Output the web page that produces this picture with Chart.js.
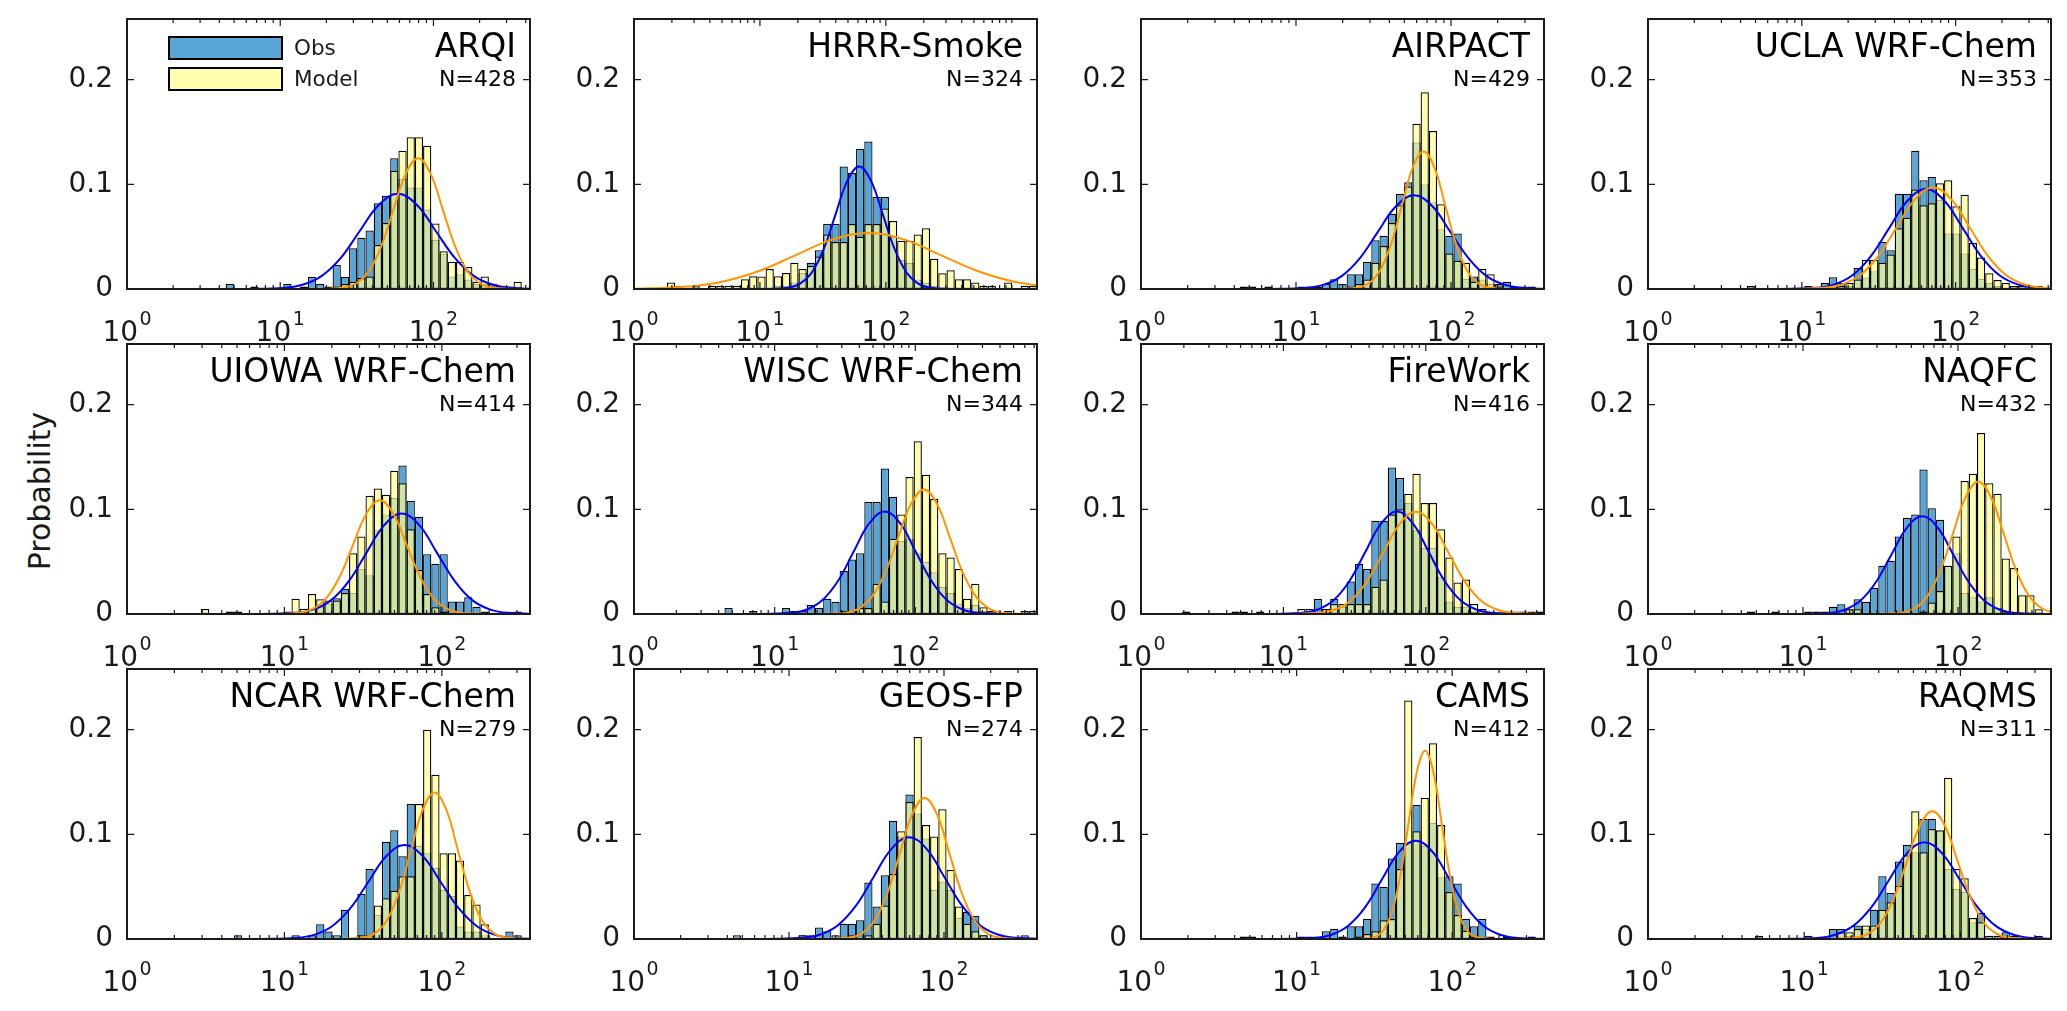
<!DOCTYPE html>
<html>
<head>
<meta charset="utf-8">
<script src="https://cdn.jsdelivr.net/npm/chart.js@4.4.1/dist/chart.umd.min.js"></script>
<style>
  html, body { margin: 0; padding: 0; background: #fff; }
  #fig { position: relative; width: 2067px; height: 1011px; overflow: hidden; background: #fff; }
  .cell { position: absolute; }
  #ylabel {
    position: absolute; left: 39px; top: 491px;
    transform: translate(-50%, -50%) rotate(-90deg);
    font: 30px "DejaVu Sans", sans-serif; color: #1a1a1a; white-space: nowrap;
  }
</style>
</head>
<body>
<div id="fig"><div id="ylabel">Probability</div></div>
<script>
// panels, left to right, top to bottom
const modelNames = ['ARQI', 'HRRR-Smoke', 'AIRPACT', 'UCLA WRF-Chem',
  'UIOWA WRF-Chem', 'WISC WRF-Chem', 'FireWork', 'NAQFC',
  'NCAR WRF-Chem', 'GEOS-FP', 'CAMS', 'RAQMS'];
const sampleSizes = [428, 324, 429, 353, 414, 344, 416, 432, 279, 274, 412, 311];
// upper x limit of each panel, log10 units (lower limit is 10^0)
const logUpperLimits = [2.63, 3.2, 2.6, 2.62, 2.56, 2.865, 2.83, 2.6, 2.56, 2.6, 2.59, 2.58];

const decadeTicks = [0, 1, 2];
const decadeTickExponents = ['0', '1', '2'];
const probTicks = [0, 0.1, 0.2];
const probTickLabels = ['0', '0.1', '0.2'];
const legendLabels = ['Obs', 'Model'];

// histograms: 49 equal log-width bins from 10^0 to the panel upper limit
const arqiObs = [
  0, 0, 0, 0, 0, 0, 0, 0, 0, 0,
  0, 0, 0.0047, 0, 0, 0.0023, 0, 0, 0, 0.0047,
  0, 0.0023, 0.0117, 0.0047, 0, 0.023, 0.0117, 0.039, 0.049, 0.056,
  0.082, 0.089, 0.125, 0.105, 0.097, 0.097, 0.076, 0.047, 0.034, 0.012,
  0.014, 0.009, 0.005, 0.005, 0.005, 0.0023, 0, 0.0023, 0];
const arqiModel = [
  0, 0, 0, 0, 0, 0, 0, 0, 0, 0,
  0, 0, 0, 0, 0, 0, 0, 0, 0, 0,
  0, 0, 0, 0, 0.0023, 0.0023, 0.0047, 0.007, 0.0105, 0.012,
  0.042, 0.063, 0.113, 0.132, 0.145, 0.145, 0.137, 0.0625, 0.036, 0.026,
  0.026, 0.021, 0.007, 0.012, 0.0023, 0.0023, 0.0023, 0.007, 0];

const hrrrObs = [
  0, 0, 0, 0, 0, 0, 0, 0.0031, 0, 0,
  0, 0, 0, 0, 0, 0, 0, 0.0031, 0.0031, 0.0062,
  0.0154, 0.025, 0.037, 0.062, 0.062, 0.117, 0.111, 0.134, 0.141, 0.088,
  0.088, 0.05, 0.028, 0.025, 0.009, 0.006, 0.003, 0, 0, 0,
  0, 0, 0, 0, 0, 0, 0, 0, 0];
const hrrrModel = [
  0, 0, 0, 0, 0.0062, 0.0031, 0, 0, 0, 0.0031,
  0.0031, 0.0031, 0.0031, 0.0093, 0.0123, 0.012, 0.019, 0.0123, 0.0154, 0.025,
  0.019, 0.022, 0.031, 0.052, 0.045, 0.045, 0.062, 0.05, 0.062, 0.062,
  0.077, 0.065, 0.046, 0.046, 0.052, 0.058, 0.029, 0.015, 0.018, 0.0093,
  0.0093, 0.0062, 0.0031, 0.0031, 0, 0.0062, 0, 0.0031, 0.0031];

const airpactObs = [
  0, 0, 0, 0, 0, 0, 0, 0, 0, 0,
  0, 0, 0.0023, 0.0023, 0, 0.0023, 0, 0, 0, 0.0023,
  0.0023, 0.0023, 0.0047, 0.0093, 0.0047, 0.014, 0.014, 0.026, 0.0465, 0.051,
  0.072, 0.091, 0.102, 0.14, 0.1, 0.083, 0.057, 0.051, 0.053, 0.0095,
  0.012, 0.009, 0.005, 0.0047, 0.007, 0.0023, 0.0023, 0.0023, 0];
const airpactModel = [
  0, 0, 0, 0, 0, 0, 0, 0, 0, 0,
  0, 0, 0, 0, 0, 0, 0, 0, 0, 0,
  0, 0, 0, 0, 0, 0.0023, 0.0047, 0.009, 0.025, 0.041,
  0.063, 0.08, 0.098, 0.158, 0.188, 0.151, 0.081, 0.034, 0.027, 0.025,
  0.007, 0.019, 0.014, 0.0023, 0, 0, 0, 0, 0];

const uclaObs = [
  0, 0, 0, 0, 0, 0, 0, 0, 0, 0,
  0, 0, 0.0028, 0, 0, 0, 0, 0, 0, 0.0028,
  0, 0.0057, 0.0113, 0.0057, 0.0028, 0.02, 0.011, 0.017, 0.045, 0.037,
  0.091, 0.091, 0.132, 0.104, 0.107, 0.085, 0.053, 0.053, 0.034, 0.019,
  0.0095, 0.0057, 0.0028, 0, 0, 0, 0, 0, 0];
const uclaModel = [
  0, 0, 0, 0, 0, 0, 0, 0, 0, 0,
  0, 0, 0, 0, 0, 0, 0, 0, 0, 0,
  0, 0, 0, 0.0028, 0.0057, 0.009, 0.028, 0.028, 0.025, 0.033,
  0.058, 0.068, 0.095, 0.08, 0.082, 0.101, 0.104, 0.079, 0.09, 0.044,
  0.03, 0.015, 0.0085, 0.0057, 0.0028, 0.0028, 0, 0.0028, 0];

const uiowaObs = [
  0, 0, 0, 0, 0, 0, 0, 0, 0, 0,
  0, 0, 0.0024, 0.0024, 0, 0, 0, 0, 0, 0,
  0, 0.0024, 0, 0.007, 0.01, 0.015, 0.024, 0.02, 0.043, 0.037,
  0.08, 0.095, 0.111, 0.142, 0.108, 0.093, 0.057, 0.048, 0.057, 0.012,
  0.012, 0.016, 0.007, 0.0024, 0, 0, 0, 0.0024, 0];
const uiowaModel = [
  0, 0, 0, 0, 0, 0, 0, 0, 0, 0.0048,
  0, 0, 0, 0, 0, 0, 0, 0, 0, 0.0024,
  0.0145, 0.005, 0.019, 0.014, 0.013, 0.013, 0.02, 0.058, 0.074, 0.113,
  0.12, 0.114, 0.137, 0.125, 0.081, 0.042, 0.019, 0.0065, 0.0024, 0,
  0, 0, 0, 0, 0, 0, 0, 0, 0];

const wiscObs = [
  0, 0, 0, 0, 0, 0, 0, 0, 0, 0,
  0, 0.0058, 0, 0, 0.0029, 0, 0, 0, 0.0058, 0.0029,
  0.0029, 0.0087, 0.0058, 0.0145, 0.0116, 0.041, 0.052, 0.058, 0.107, 0.107,
  0.139, 0.112, 0.07, 0.072, 0.058, 0.05, 0.04, 0.026, 0.02, 0.01,
  0.0058, 0.0087, 0.0029, 0, 0, 0, 0, 0, 0];
const wiscModel = [
  0, 0, 0, 0, 0, 0, 0, 0, 0, 0,
  0, 0, 0, 0, 0, 0, 0, 0, 0, 0,
  0, 0, 0, 0, 0, 0.0029, 0.0029, 0.0058, 0.0058, 0.029,
  0.012, 0.072, 0.095, 0.131, 0.165, 0.133, 0.11, 0.058, 0.054, 0.043,
  0.0145, 0.029, 0.0065, 0.0029, 0, 0.0029, 0, 0.0029, 0.0029];

const fireworkObs = [
  0, 0, 0, 0, 0, 0.0024, 0, 0, 0, 0,
  0, 0.0024, 0.0024, 0, 0.0024, 0, 0, 0, 0, 0,
  0, 0.0144, 0, 0.0144, 0.007, 0.031, 0.048, 0.043, 0.089, 0.089,
  0.14, 0.13, 0.106, 0.08, 0.063, 0.063, 0.035, 0.012, 0.007, 0.007,
  0.0024, 0, 0, 0, 0.0024, 0, 0.0024, 0, 0.0024];
const fireworkModel = [
  0, 0, 0, 0, 0, 0, 0, 0, 0, 0,
  0, 0, 0, 0, 0, 0, 0, 0, 0, 0.0048,
  0.0048, 0, 0.0048, 0.0096, 0.0096, 0.0096, 0.0096, 0.0096, 0.026, 0.033,
  0.095, 0.1, 0.115, 0.134, 0.106, 0.106, 0.081, 0.054, 0.03, 0.033,
  0.0096, 0.0048, 0, 0, 0, 0.0024, 0, 0.0024, 0];

const naqfcObs = [
  0, 0, 0, 0, 0, 0, 0, 0, 0, 0,
  0, 0, 0.0023, 0, 0, 0.0023, 0, 0, 0, 0.0023,
  0.0023, 0.0023, 0.007, 0.0093, 0.0046, 0.014, 0.0116, 0.025, 0.046, 0.051,
  0.074, 0.092, 0.095, 0.138, 0.101, 0.09, 0.046, 0.058, 0.02, 0.016,
  0.012, 0.016, 0.006, 0.0023, 0, 0, 0, 0, 0];
const naqfcModel = [
  0, 0, 0, 0, 0, 0, 0, 0, 0, 0,
  0, 0, 0, 0, 0, 0, 0, 0, 0, 0,
  0, 0, 0, 0, 0.0046, 0.0046, 0, 0, 0, 0,
  0.0023, 0, 0, 0.0023, 0.011, 0.022, 0.046, 0.074, 0.127, 0.134,
  0.173, 0.125, 0.115, 0.053, 0.044, 0.018, 0.018, 0.0046, 0];

const ncarObs = [
  0, 0, 0, 0, 0, 0, 0, 0, 0, 0,
  0, 0, 0, 0.0036, 0, 0, 0, 0, 0, 0,
  0.0036, 0, 0.0036, 0.014, 0.0072, 0.0036, 0.028, 0, 0.043, 0.067,
  0.023, 0.093, 0.104, 0.079, 0.129, 0.089, 0.082, 0.068, 0.047, 0.041,
  0.012, 0.0072, 0.0072, 0.0036, 0, 0, 0.0072, 0.0036, 0];
const ncarModel = [
  0, 0, 0, 0, 0, 0, 0, 0, 0, 0,
  0, 0, 0, 0, 0, 0, 0, 0, 0, 0,
  0, 0, 0, 0, 0, 0, 0, 0, 0.0036, 0.0036,
  0.032, 0.039, 0.046, 0.06, 0.06, 0.129, 0.2, 0.157, 0.082, 0.082,
  0.075, 0.042, 0.033, 0.014, 0, 0, 0, 0, 0];

const geosObs = [
  0, 0, 0, 0, 0, 0, 0, 0, 0, 0,
  0, 0, 0.0036, 0, 0, 0, 0, 0, 0, 0,
  0.0036, 0.0036, 0.011, 0.0073, 0.0036, 0.0146, 0.0146, 0.018, 0.054, 0.031,
  0.061, 0.113, 0.098, 0.138, 0.12, 0.096, 0.047, 0.055, 0.047, 0.02,
  0.026, 0.022, 0.0036, 0, 0, 0, 0, 0.0036, 0];
const geosModel = [
  0, 0, 0, 0, 0, 0, 0, 0, 0, 0,
  0, 0, 0, 0, 0, 0, 0, 0, 0, 0,
  0.0036, 0, 0, 0, 0, 0, 0.0036, 0, 0.0036, 0.0146,
  0.032, 0.062, 0.103, 0.131, 0.193, 0.109, 0.098, 0.124, 0.066, 0.031,
  0.0146, 0.0073, 0.0036, 0, 0, 0, 0, 0, 0];

const camsObs = [
  0, 0, 0, 0, 0, 0, 0, 0, 0, 0,
  0, 0, 0.0024, 0.0024, 0, 0, 0, 0, 0, 0.0024,
  0.0024, 0.0024, 0.0073, 0.0097, 0.0024, 0.0121, 0.0121, 0.019, 0.053, 0.05,
  0.077, 0.092, 0.092, 0.128, 0.089, 0.111, 0.059, 0.06, 0.053, 0.019,
  0.0121, 0.019, 0.0024, 0, 0.0024, 0, 0, 0.0024, 0];
const camsModel = [
  0, 0, 0, 0, 0, 0, 0, 0, 0, 0,
  0, 0, 0, 0, 0, 0, 0, 0, 0, 0,
  0, 0, 0, 0, 0, 0, 0.0024, 0.0048, 0.0073, 0.018,
  0.019, 0.067, 0.228, 0.103, 0.135, 0.187, 0.109, 0.045, 0.023, 0.008,
  0.0024, 0, 0, 0, 0, 0, 0, 0, 0];

const raqmsObs = [
  0, 0, 0, 0, 0, 0, 0, 0, 0, 0,
  0, 0, 0, 0.0032, 0, 0, 0, 0, 0, 0.0032,
  0, 0, 0.0096, 0.0096, 0.0032, 0.0129, 0.0096, 0.028, 0.06, 0.044,
  0.074, 0.09, 0.083, 0.115, 0.115, 0.103, 0.067, 0.048, 0.045, 0.016,
  0.025, 0.0032, 0.0032, 0.0064, 0.0032, 0, 0, 0.0032, 0];
const raqmsModel = [
  0, 0, 0, 0, 0, 0, 0, 0, 0, 0,
  0, 0, 0, 0, 0, 0, 0, 0, 0, 0,
  0, 0, 0, 0.0064, 0.0064, 0.0096, 0.0129, 0.0129, 0.028, 0.035,
  0.051, 0.08, 0.122, 0.083, 0.105, 0.104, 0.154, 0.067, 0.058, 0.02,
  0.016, 0, 0, 0, 0, 0, 0, 0, 0];

// fitted normal curves: x in log10 units, y probability
const arqiObsFitX = [0.771, 1.02, 1.145, 1.269, 1.394, 1.518, 1.643, 1.767, 1.892, 2.016, 2.141, 2.265, 2.39, 2.514, 2.763];
const arqiObsFitY = [0, 0.001, 0.004, 0.0123, 0.0295, 0.0552, 0.0803, 0.091, 0.0803, 0.0552, 0.0295, 0.0123, 0.004, 0.001, 0];
const arqiModelFitX = [1.256, 1.417, 1.498, 1.578, 1.659, 1.739, 1.82, 1.9, 1.981, 2.061, 2.142, 2.222, 2.303, 2.383, 2.544];
const arqiModelFitY = [0, 0.0014, 0.0055, 0.0169, 0.0406, 0.0758, 0.1103, 0.125, 0.1103, 0.0758, 0.0406, 0.0169, 0.0055, 0.0014, 0];

const hrrrObsFitX = [1.036, 1.224, 1.318, 1.412, 1.506, 1.6, 1.694, 1.788, 1.882, 1.976, 2.07, 2.164, 2.258, 2.352, 2.54];
const hrrrObsFitY = [0, 0.0013, 0.0051, 0.0158, 0.038, 0.071, 0.1033, 0.117, 0.1033, 0.071, 0.038, 0.0158, 0.0051, 0.0013, 0];
const hrrrModelFitX = [-0.44, 0.135, 0.423, 0.71, 0.998, 1.285, 1.573, 1.86, 2.148, 2.435, 2.723, 3.01, 3.298, 3.585, 4.16];
const hrrrModelFitY = [0, 0.0006, 0.0023, 0.0072, 0.0174, 0.0324, 0.0472, 0.0535, 0.0472, 0.0324, 0.0174, 0.0072, 0.0023, 0.0006, 0];

const airpactObsFitX = [0.822, 1.057, 1.175, 1.292, 1.41, 1.527, 1.645, 1.762, 1.88, 1.997, 2.115, 2.232, 2.35, 2.467, 2.702];
const airpactObsFitY = [0, 0.001, 0.0039, 0.0121, 0.0291, 0.0543, 0.079, 0.0895, 0.079, 0.0543, 0.0291, 0.0121, 0.0039, 0.001, 0];
const airpactModelFitX = [1.263, 1.403, 1.473, 1.543, 1.613, 1.683, 1.753, 1.823, 1.893, 1.963, 2.033, 2.103, 2.173, 2.243, 2.383];
const airpactModelFitY = [0, 0.0015, 0.0058, 0.0178, 0.0427, 0.0798, 0.116, 0.1315, 0.116, 0.0798, 0.0427, 0.0178, 0.0058, 0.0015, 0];

const uclaObsFitX = [0.847, 1.087, 1.207, 1.327, 1.447, 1.567, 1.687, 1.807, 1.927, 2.047, 2.167, 2.287, 2.407, 2.527, 2.767];
const uclaObsFitY = [0, 0.0011, 0.0042, 0.0129, 0.031, 0.0579, 0.0843, 0.0955, 0.0843, 0.0579, 0.031, 0.0129, 0.0042, 0.0011, 0];
const uclaModelFitX = [0.902, 1.14, 1.259, 1.378, 1.497, 1.616, 1.735, 1.854, 1.973, 2.092, 2.211, 2.33, 2.449, 2.568, 2.806];
const uclaModelFitY = [0, 0.0011, 0.0043, 0.0131, 0.0315, 0.0588, 0.0856, 0.097, 0.0856, 0.0588, 0.0315, 0.0131, 0.0043, 0.0011, 0];

const uiowaObsFitX = [0.845, 1.07, 1.183, 1.295, 1.408, 1.52, 1.633, 1.745, 1.858, 1.97, 2.083, 2.195, 2.308, 2.42, 2.645];
const uiowaObsFitY = [0, 0.0011, 0.0042, 0.013, 0.0312, 0.0582, 0.0847, 0.096, 0.0847, 0.0582, 0.0312, 0.013, 0.0042, 0.0011, 0];
const uiowaModelFitX = [0.922, 1.093, 1.179, 1.264, 1.35, 1.435, 1.521, 1.606, 1.692, 1.777, 1.863, 1.948, 2.034, 2.119, 2.29];
const uiowaModelFitY = [0, 0.0012, 0.0048, 0.0147, 0.0353, 0.0659, 0.0958, 0.1086, 0.0958, 0.0659, 0.0353, 0.0147, 0.0048, 0.0012, 0];

const wiscObsFitX = [0.898, 1.119, 1.23, 1.34, 1.451, 1.561, 1.672, 1.782, 1.893, 2.003, 2.114, 2.224, 2.335, 2.445, 2.666];
const wiscObsFitY = [0, 0.0011, 0.0043, 0.0133, 0.0318, 0.0594, 0.0865, 0.098, 0.0865, 0.0594, 0.0318, 0.0133, 0.0043, 0.0011, 0];
const wiscModelFitX = [1.318, 1.504, 1.597, 1.69, 1.783, 1.876, 1.969, 2.062, 2.155, 2.248, 2.341, 2.434, 2.527, 2.62, 2.806];
const wiscModelFitY = [0, 0.0013, 0.0052, 0.0161, 0.0386, 0.0722, 0.105, 0.119, 0.105, 0.0722, 0.0386, 0.0161, 0.0052, 0.0013, 0];

const fireworkObsFitX = [0.91, 1.132, 1.243, 1.354, 1.465, 1.576, 1.687, 1.798, 1.909, 2.02, 2.131, 2.242, 2.353, 2.464, 2.686];
const fireworkObsFitY = [0, 0.0011, 0.0043, 0.0133, 0.0318, 0.0594, 0.0865, 0.098, 0.0865, 0.0594, 0.0318, 0.0133, 0.0043, 0.0011, 0];
const fireworkModelFitX = [1.022, 1.249, 1.363, 1.476, 1.59, 1.703, 1.817, 1.93, 2.044, 2.157, 2.271, 2.384, 2.498, 2.611, 2.838];
const fireworkModelFitY = [0, 0.0011, 0.0043, 0.0132, 0.0317, 0.0592, 0.0861, 0.0976, 0.0861, 0.0592, 0.0317, 0.0132, 0.0043, 0.0011, 0];

const naqfcObsFitX = [0.97, 1.17, 1.27, 1.37, 1.47, 1.57, 1.67, 1.77, 1.87, 1.97, 2.07, 2.17, 2.27, 2.37, 2.57];
const naqfcObsFitY = [0, 0.001, 0.0041, 0.0126, 0.0303, 0.0566, 0.0824, 0.0934, 0.0824, 0.0566, 0.0303, 0.0126, 0.0041, 0.001, 0];
const naqfcModelFitX = [1.475, 1.639, 1.721, 1.803, 1.885, 1.967, 2.049, 2.131, 2.213, 2.295, 2.377, 2.459, 2.541, 2.623, 2.787];
const naqfcModelFitY = [0, 0.0014, 0.0055, 0.0171, 0.041, 0.0767, 0.1115, 0.1264, 0.1115, 0.0767, 0.041, 0.0171, 0.0055, 0.0014, 0];

const ncarObsFitX = [0.843, 1.073, 1.188, 1.303, 1.418, 1.533, 1.648, 1.763, 1.878, 1.993, 2.108, 2.223, 2.338, 2.453, 2.683];
const ncarObsFitY = [0, 0.001, 0.0039, 0.0122, 0.0292, 0.0545, 0.0793, 0.0899, 0.0793, 0.0545, 0.0292, 0.0122, 0.0039, 0.001, 0];
const ncarModelFitX = [1.357, 1.506, 1.581, 1.655, 1.73, 1.804, 1.879, 1.953, 2.028, 2.102, 2.177, 2.251, 2.326, 2.4, 2.549];
const ncarModelFitY = [0, 0.0016, 0.0061, 0.0189, 0.0455, 0.0849, 0.1236, 0.14, 0.1236, 0.0849, 0.0455, 0.0189, 0.0061, 0.0016, 0];

const geosObsFitX = [0.858, 1.087, 1.202, 1.316, 1.431, 1.545, 1.66, 1.774, 1.889, 2.003, 2.118, 2.232, 2.347, 2.461, 2.69];
const geosObsFitY = [0, 0.0011, 0.0043, 0.0132, 0.0316, 0.059, 0.0859, 0.0973, 0.0859, 0.059, 0.0316, 0.0132, 0.0043, 0.0011, 0];
const geosModelFitX = [1.235, 1.395, 1.475, 1.555, 1.635, 1.715, 1.795, 1.875, 1.955, 2.035, 2.115, 2.195, 2.275, 2.355, 2.515];
const geosModelFitY = [0, 0.0015, 0.0059, 0.0182, 0.0438, 0.0818, 0.119, 0.1348, 0.119, 0.0818, 0.0438, 0.0182, 0.0059, 0.0015, 0];

const camsObsFitX = [0.898, 1.115, 1.224, 1.332, 1.441, 1.549, 1.658, 1.766, 1.875, 1.983, 2.092, 2.2, 2.309, 2.417, 2.634];
const camsObsFitY = [0, 0.001, 0.0041, 0.0127, 0.0305, 0.057, 0.083, 0.094, 0.083, 0.057, 0.0305, 0.0127, 0.0041, 0.001, 0];
const camsModelFitX = [1.394, 1.502, 1.556, 1.61, 1.664, 1.718, 1.772, 1.826, 1.88, 1.934, 1.988, 2.042, 2.096, 2.15, 2.258];
const camsModelFitY = [0, 0.002, 0.0079, 0.0244, 0.0584, 0.1092, 0.1589, 0.18, 0.1589, 0.1092, 0.0584, 0.0244, 0.0079, 0.002, 0];

const raqmsObsFitX = [0.858, 1.086, 1.2, 1.314, 1.428, 1.542, 1.656, 1.77, 1.884, 1.998, 2.112, 2.226, 2.34, 2.454, 2.682];
const raqmsObsFitY = [0, 0.001, 0.0041, 0.0125, 0.03, 0.0561, 0.0816, 0.0925, 0.0816, 0.0561, 0.03, 0.0125, 0.0041, 0.001, 0];
const raqmsModelFitX = [1.168, 1.331, 1.413, 1.494, 1.576, 1.657, 1.739, 1.82, 1.902, 1.983, 2.065, 2.146, 2.228, 2.309, 2.472];
const raqmsModelFitY = [0, 0.0014, 0.0054, 0.0165, 0.0396, 0.074, 0.1077, 0.122, 0.1077, 0.074, 0.0396, 0.0165, 0.0054, 0.0014, 0];

const obsSeries = [arqiObs, hrrrObs, airpactObs, uclaObs, uiowaObs, wiscObs,
  fireworkObs, naqfcObs, ncarObs, geosObs, camsObs, raqmsObs];
const modelSeries = [arqiModel, hrrrModel, airpactModel, uclaModel, uiowaModel, wiscModel,
  fireworkModel, naqfcModel, ncarModel, geosModel, camsModel, raqmsModel];
const obsFits = [
  [arqiObsFitX, arqiObsFitY], [hrrrObsFitX, hrrrObsFitY], [airpactObsFitX, airpactObsFitY],
  [uclaObsFitX, uclaObsFitY], [uiowaObsFitX, uiowaObsFitY], [wiscObsFitX, wiscObsFitY],
  [fireworkObsFitX, fireworkObsFitY], [naqfcObsFitX, naqfcObsFitY], [ncarObsFitX, ncarObsFitY],
  [geosObsFitX, geosObsFitY], [camsObsFitX, camsObsFitY], [raqmsObsFitX, raqmsObsFitY]];
const modelFits = [
  [arqiModelFitX, arqiModelFitY], [hrrrModelFitX, hrrrModelFitY], [airpactModelFitX, airpactModelFitY],
  [uclaModelFitX, uclaModelFitY], [uiowaModelFitX, uiowaModelFitY], [wiscModelFitX, wiscModelFitY],
  [fireworkModelFitX, fireworkModelFitY], [naqfcModelFitX, naqfcModelFitY], [ncarModelFitX, ncarModelFitY],
  [geosModelFitX, geosModelFitY], [camsModelFitX, camsModelFitY], [raqmsModelFitX, raqmsModelFitY]];

// ---- look ----
const FONT = '"DejaVu Sans", sans-serif';
const INK = '#1a1a1a';
const OBS_FILL = 'rgb(88,166,216)';
const MODEL_FILL = 'rgba(255,255,140,0.7)';
const OBS_FIT = 'rgb(0,0,255)';
const MODEL_FIT = 'rgb(255,150,0)';
const Y_MAX = 0.258;

const BOX_W = 403, BOX_H = 270;
const colLeft = [127, 634, 1141, 1648];
const rowTop = [19, 344, 669];
const PAD = {left: 90, top: 10, right: 10, bottom: 65};

function toPoints(xs, ys) {
  return xs.map((x, i) => ({x: x, y: ys[i]}));
}

function makeDecor(p, withLegend) {
  return {
    id: 'panelDecor',
    afterDatasetsDraw(chart) {
      const {ctx, chartArea: a, scales: {x, y}} = chart;
      ctx.save();

      // inward ticks on all four sides
      ctx.strokeStyle = INK;
      ctx.lineWidth = 1.2;
      ctx.beginPath();
      for (let d = 0; d < p.xMax; d++) {
        for (let k = 1; k <= 9; k++) {
          const v = d + Math.log10(k);
          if (v <= 0 || v >= p.xMax) continue;
          const len = (k === 1 && decadeTicks.includes(d)) ? 7 : 4;
          const px = x.getPixelForValue(v);
          ctx.moveTo(px, a.bottom); ctx.lineTo(px, a.bottom - len);
          ctx.moveTo(px, a.top); ctx.lineTo(px, a.top + len);
        }
      }
      probTicks.forEach(v => {
        const py = y.getPixelForValue(v);
        ctx.moveTo(a.left, py); ctx.lineTo(a.left + 7, py);
        ctx.moveTo(a.right, py); ctx.lineTo(a.right - 7, py);
      });
      ctx.stroke();

      ctx.lineWidth = 2;
      ctx.strokeRect(a.left, a.top, a.right - a.left, a.bottom - a.top);

      // tick labels
      ctx.fillStyle = INK;
      ctx.font = '28px ' + FONT;
      ctx.textAlign = 'right';
      ctx.textBaseline = 'middle';
      probTicks.forEach((v, i) => ctx.fillText(probTickLabels[i], a.left - 14, y.getPixelForValue(v)));

      ctx.textAlign = 'left';
      ctx.textBaseline = 'alphabetic';
      decadeTicks.forEach((d, i) => {
        ctx.font = '28px ' + FONT;
        const wb = ctx.measureText('10').width;
        ctx.font = '19px ' + FONT;
        const we = ctx.measureText(decadeTickExponents[i]).width;
        const x0 = x.getPixelForValue(d) - (wb + we + 1.5) / 2;
        ctx.font = '28px ' + FONT;
        ctx.fillText('10', x0, a.bottom + 52);
        ctx.font = '19px ' + FONT;
        ctx.fillText(decadeTickExponents[i], x0 + wb + 1.5, a.bottom + 36);
      });

      // model name and sample size
      ctx.fillStyle = '#000';
      ctx.textAlign = 'right';
      ctx.font = '33px ' + FONT;
      ctx.fillText(p.name, a.right - 14, a.top + 38);
      ctx.font = '22px ' + FONT;
      ctx.fillText('N=' + p.n, a.right - 14, a.top + 67);

      if (withLegend) {
        const fills = [OBS_FILL, MODEL_FILL];
        ctx.textAlign = 'left';
        ctx.font = '21.5px ' + FONT;
        legendLabels.forEach((label, i) => {
          const top = a.top + 18 + i * 31;
          ctx.fillStyle = fills[i];
          ctx.fillRect(a.left + 42, top, 113, 22);
          ctx.lineWidth = 2;
          ctx.strokeStyle = '#000';
          ctx.strokeRect(a.left + 42, top, 113, 22);
          ctx.fillStyle = INK;
          ctx.fillText(label, a.left + 167, top + 18);
        });
      }
      ctx.restore();
    }
  };
}

const fig = document.getElementById('fig');

modelNames.forEach((name, idx) => {
  const p = {name: name, n: sampleSizes[idx], xMax: logUpperLimits[idx]};
  const binWidth = p.xMax / obsSeries[idx].length;
  const centers = obsSeries[idx].map((_, i) => (i + 0.5) * binWidth);

  const cell = document.createElement('div');
  cell.className = 'cell';
  const w = BOX_W + PAD.left + PAD.right;
  const h = BOX_H + PAD.top + PAD.bottom;
  cell.style.left = (colLeft[idx % 4] - PAD.left) + 'px';
  cell.style.top = (rowTop[Math.floor(idx / 4)] - PAD.top) + 'px';
  cell.style.width = w + 'px';
  cell.style.height = h + 'px';
  const canvas = document.createElement('canvas');
  canvas.width = w;
  canvas.height = h;
  cell.appendChild(canvas);
  fig.appendChild(cell);

  const barStyle = {
    type: 'bar',
    borderColor: '#000',
    borderWidth: 1.25,
    borderSkipped: false,
    grouped: false,
    barPercentage: 1,
    categoryPercentage: 1,
    inflateAmount: 0
  };

  new Chart(canvas, {
    type: 'bar',
    data: {
      datasets: [
        Object.assign({}, barStyle, {
          label: 'Obs',
          data: toPoints(centers, obsSeries[idx]),
          backgroundColor: OBS_FILL,
          order: 4
        }),
        Object.assign({}, barStyle, {
          label: 'Model',
          data: toPoints(centers, modelSeries[idx]),
          backgroundColor: MODEL_FILL,
          order: 3
        }),
        {
          type: 'line',
          label: 'Obs fit',
          data: toPoints(obsFits[idx][0], obsFits[idx][1]),
          borderColor: OBS_FIT,
          borderWidth: 2,
          pointRadius: 0,
          tension: 0.4,
          fill: false,
          order: 2
        },
        {
          type: 'line',
          label: 'Model fit',
          data: toPoints(modelFits[idx][0], modelFits[idx][1]),
          borderColor: MODEL_FIT,
          borderWidth: 2,
          pointRadius: 0,
          tension: 0.4,
          fill: false,
          order: 1
        }
      ]
    },
    options: {
      responsive: false,
      animation: false,
      devicePixelRatio: 1,
      layout: {padding: PAD},
      plugins: {
        legend: {display: false},
        tooltip: {enabled: false}
      },
      scales: {
        x: {
          type: 'linear',
          display: false,
          min: 0,
          max: p.xMax,
          offset: false,
          afterBuildTicks: s => { s.ticks = decadeTicks.map(v => ({value: v})); }
        },
        y: {
          type: 'linear',
          display: false,
          min: 0,
          max: Y_MAX,
          afterBuildTicks: s => { s.ticks = probTicks.map(v => ({value: v})); }
        }
      }
    },
    plugins: [makeDecor(p, idx === 0)]
  });
});
</script>
</body>
</html>
